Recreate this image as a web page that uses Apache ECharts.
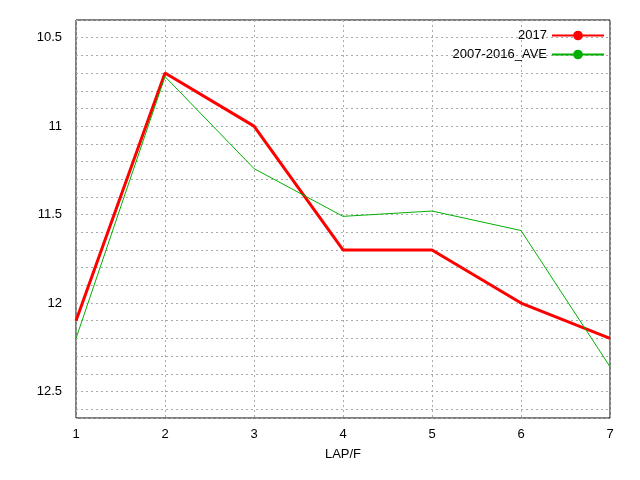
<!DOCTYPE html><html><head><meta charset="utf-8">
<script src="https://cdn.jsdelivr.net/npm/echarts@6/dist/echarts.min.js"></script>
<style>body{margin:0}#c{width:640px;height:480px;background:#fff}</style></head><body><div id="c"></div>
<script>
const laps=[1,2,3,4,5,6,7];
const s2017=[12.1,10.7,11.0,11.7,11.7,12.0,12.2];
const sAve=[12.2,10.72,11.24,11.51,11.48,11.59,12.36];
const ch=echarts.init(document.getElementById('c'));
const font='Liberation Sans';
ch.setOption({
 animation:false,
 grid:{left:76,right:30,top:20,bottom:62,show:true,borderColor:'#000',borderWidth:1},
 legend:{right:30,top:24,orient:'vertical',align:'right',itemWidth:52,itemHeight:12,itemGap:6,
  textStyle:{fontFamily:font,fontSize:13,color:'#000'},
  data:['2017','2007-2016_AVE']},
 xAxis:{type:'value',min:1,max:7,interval:1,name:'LAP/F',nameLocation:'middle',nameGap:30,
  nameTextStyle:{fontFamily:font,fontSize:13,color:'#000'},
  axisLine:{show:false},axisTick:{show:false},
  axisLabel:{fontFamily:font,fontSize:13,color:'#000',margin:10},
  splitLine:{lineStyle:{color:'#aaa',type:[2,3]}}},
 yAxis:{type:'value',inverse:true,min:10.4,max:12.65,interval:0.1,
  axisLine:{show:false},axisTick:{show:false},
  axisLabel:{fontFamily:font,fontSize:13,color:'#000',margin:14,
   formatter:v=>Math.abs(v*2-Math.round(v*2))<1e-6?String(Math.round(v*10)/10):''},
  splitLine:{lineStyle:{color:'#aaa',type:[2,3]}}},
 series:[
  {name:'2017',type:'line',symbol:'none',data:laps.map((x,i)=>[x,s2017[i]]),
   lineStyle:{color:'#ff0000',width:3},itemStyle:{color:'#ff0000'}},
  {name:'2007-2016_AVE',type:'line',symbol:'none',data:laps.map((x,i)=>[x,sAve[i]]),
   lineStyle:{color:'#00b000',width:1},itemStyle:{color:'#00b000'}}
 ]
});
</script></body></html>
